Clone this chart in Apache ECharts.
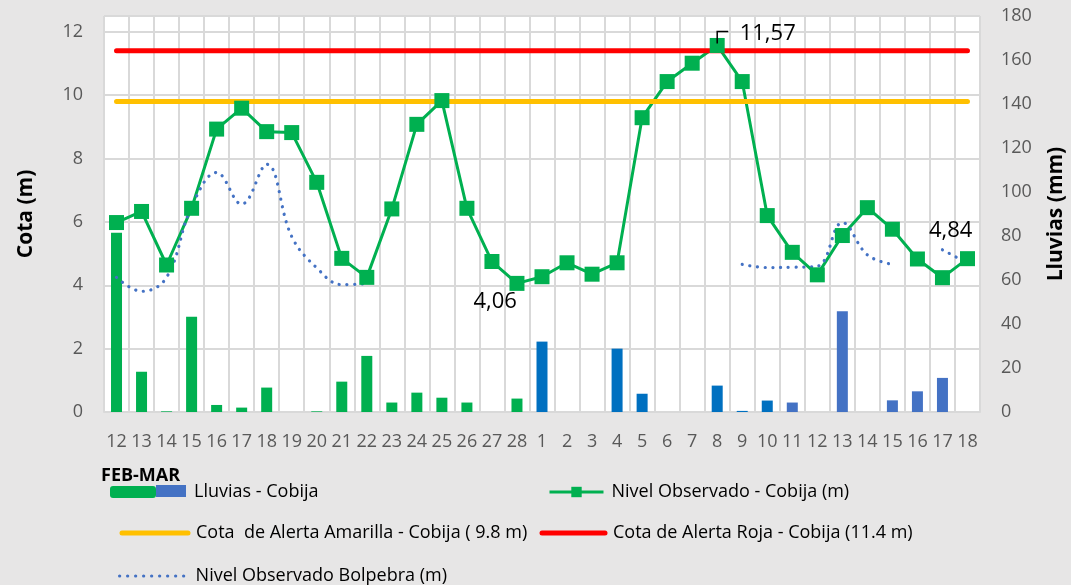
<!DOCTYPE html>
<html>
<head>
<meta charset="utf-8">
<script src="https://cdn.jsdelivr.net/npm/echarts@6/dist/echarts.min.js"></script>
<style>
html,body{margin:0;padding:0;background:#e7e6e6;}
#c{width:1071px;height:585px;}
</style>
</head>
<body>
<div id="c"></div>
<script>
// ---- Data ----
const categories = ['12','13','14','15','16','17','18','19','20','21','22','23','24','25','26','27','28',
                    '1','2','3','4','5','6','7','8','9','10','11','12','13','14','15','16','17','18'];
const periodLabel = 'FEB-MAR';
// Lluvias - Cobija (mm), right axis
const lluvias = [81.5,18.3,0.3,43.3,3.2,2.0,11.1,0,0.3,13.8,25.5,4.3,8.8,6.5,4.3,0,6.1,
                 32.0,0,0,28.8,8.3,0,0,12.0,0.5,5.2,4.3,0,45.8,0,5.3,9.4,15.5,0];
// Nivel Observado - Cobija (m)
const nivelCobija = [5.98,6.33,4.64,6.43,8.93,9.59,8.85,8.82,7.25,4.85,4.25,6.41,9.08,9.83,6.43,4.75,4.06,
                     4.27,4.71,4.35,4.71,9.29,10.43,11.01,11.57,10.43,6.20,5.04,4.33,5.57,6.45,5.77,4.83,4.24,4.84];
// Nivel Observado Bolpebra (m)
const nivelBolpebra = [4.25,3.81,4.25,6.48,7.56,6.56,7.82,5.54,4.55,4.02,4.05,null,null,null,null,null,null,
                       null,null,null,null,null,null,null,null,4.66,4.56,4.57,4.60,5.98,4.96,4.66,null,5.12,4.70];
// Cota de Alerta Amarilla / Roja (m)
const alertaAmarilla = [9.8,9.8,9.8,9.8,9.8,9.8,9.8,9.8,9.8,9.8,9.8,9.8,9.8,9.8,9.8,9.8,9.8,
                        9.8,9.8,9.8,9.8,9.8,9.8,9.8,9.8,9.8,9.8,9.8,9.8,9.8,9.8,9.8,9.8,9.8,9.8];
const alertaRoja = [11.4,11.4,11.4,11.4,11.4,11.4,11.4,11.4,11.4,11.4,11.4,11.4,11.4,11.4,11.4,11.4,11.4,
                    11.4,11.4,11.4,11.4,11.4,11.4,11.4,11.4,11.4,11.4,11.4,11.4,11.4,11.4,11.4,11.4,11.4,11.4];
const labelledPoints = [16, 24, 34]; // indices of points carrying data labels

const names = {
  lluvias: 'Lluvias - Cobija',
  cobija: 'Nivel Observado - Cobija (m)',
  amarilla: 'Cota  de Alerta Amarilla - Cobija ( 9.8 m)',
  roja: 'Cota de Alerta Roja - Cobija (11.4 m)',
  bolpebra: 'Nivel Observado Bolpebra (m)'
};

// ---- Styling ----
const FONT = '"Open Sans", sans-serif';
const GREEN = '#00B050', BLUE = '#0070C0', STEEL = '#4472C4';
const YELLOW = '#FFC000', RED = '#FF0000';
const GRID = '#d9d9d9';

function barColor(i) {
  if (i < 17) return GREEN;
  if (i < 27) return BLUE;
  return STEEL;
}
const labelPos = { 16: [-36, 15], 24: [30, -15], 34: [-31, -31] };

const barData = lluvias.map((v, i) => ({ value: v, itemStyle: { color: barColor(i) } }));
const cobijaData = nivelCobija.map((v, i) => {
  if (labelledPoints.indexOf(i) >= 0) {
    return { value: v, label: { show: true, position: labelPos[i],
      formatter: p => p.value.toFixed(2).replace('.', ','),
      fontFamily: FONT, fontSize: 22, color: '#000', lineHeight: 22 } };
  }
  return v;
});

const legendText = { fontFamily: FONT, fontSize: 18, color: '#000', lineHeight: 22, padding: [0, 0, 0, 3] };
function mkLegend(name, left, top, w, h, lineStyle, itemStyle, textPad) {
  const l = { orient: 'horizontal', padding: 0, itemGap: 0, selectedMode: false,
    data: [name], left: left, top: top, itemWidth: w, itemHeight: h,
    textStyle: Object.assign({}, legendText, textPad ? { padding: textPad } : {}) };
  if (lineStyle) l.lineStyle = lineStyle;
  if (itemStyle) l.itemStyle = itemStyle;
  return l;
}

const chart = echarts.init(document.getElementById('c'), null, { renderer: 'canvas' });
const staticGraphics = [
  { type: 'text', left: 101, top: 467, z: 10,
    style: { text: periodLabel, fontFamily: FONT, fontSize: 18, fontWeight: 'bold', fill: '#000' } },
  { type: 'rect', z: 100, shape: { x: 156, y: 485, width: 30, height: 12 }, style: { fill: STEEL } }
];
const option = {
  animation: false,
  backgroundColor: '#e7e6e6',
  grid: { left: 104, right: 91, top: 16, bottom: 173, show: true, backgroundColor: '#ffffff',
          borderColor: GRID, borderWidth: 1, outerBoundsMode: 'none', containLabel: false },
  xAxis: {
    type: 'category', data: categories, boundaryGap: true,
    axisLine: { show: true, lineStyle: { color: GRID, width: 2 } },
    axisTick: { show: false },
    axisLabel: { interval: 0, margin: 21, color: '#595959', fontFamily: FONT, fontSize: 18 },
    splitLine: { show: true, interval: 0, lineStyle: { color: GRID, width: 2 } }
  },
  yAxis: [
    { type: 'value', min: 0, max: 12.5, interval: 2,
      name: 'Cota (m)', nameLocation: 'middle', nameRotate: 90, nameGap: 67,
      nameTextStyle: { fontFamily: FONT, fontSize: 21, fontWeight: 'bold', color: '#000' },
      axisLine: { show: false }, axisTick: { show: false },
      axisLabel: { margin: 21, color: '#595959', fontFamily: FONT, fontSize: 18, showMaxLabel: false,
                   formatter: v => (v > 12 ? '' : String(v)) },
      splitLine: { show: true, lineStyle: { color: GRID, width: 2 } } },
    { type: 'value', min: 0, max: 180, interval: 20,
      name: 'Lluvias (mm)', nameLocation: 'middle', nameRotate: 90, nameGap: 66,
      nameTextStyle: { fontFamily: FONT, fontSize: 21, fontWeight: 'bold', color: '#000' },
      axisLine: { show: false }, axisTick: { show: false },
      axisLabel: { margin: 21, color: '#595959', fontFamily: FONT, fontSize: 18 },
      splitLine: { show: false } }
  ],
  legend: [
    mkLegend(names.lluvias, 110, 481, 46, 12, null, null, [0, 0, 0, 33]),
    mkLegend(names.cobija, 548, 481, 54, 13, { width: 3, color: GREEN }, null),
    mkLegend(names.amarilla, 119.5, 522, 66, 14, { width: 5, color: YELLOW, cap: 'round' }, { opacity: 0 }),
    mkLegend(names.roja, 539.5, 522, 63, 14, { width: 5, color: RED, cap: 'round' }, { opacity: 0 }),
    mkLegend(names.bolpebra, 118, 565, 68, 14, { width: 3.2, color: STEEL, cap: 'round', type: [0.1, 7.9] }, { opacity: 0 })
  ],
  series: [
    { name: names.lluvias, type: 'bar', yAxisIndex: 1, barWidth: 11, data: barData,
      itemStyle: { color: GREEN } },
    { name: names.cobija, type: 'line', yAxisIndex: 0, data: cobijaData,
      symbol: 'rect', symbolSize: 15, showAllSymbol: true,
      itemStyle: { color: GREEN }, lineStyle: { color: GREEN, width: 3 } },
    { name: names.bolpebra, type: 'line', yAxisIndex: 0, data: nivelBolpebra, smooth: 0.4,
      connectNulls: false, symbol: 'none',
      itemStyle: { color: STEEL },
      lineStyle: { color: STEEL, width: 3.2, type: [0.1, 7.6], cap: 'round' } },
    { name: names.amarilla, type: 'line', yAxisIndex: 0, data: alertaAmarilla, symbol: 'none',
      itemStyle: { color: YELLOW }, lineStyle: { color: YELLOW, width: 5, cap: 'round' } },
    { name: names.roja, type: 'line', yAxisIndex: 0, data: alertaRoja, symbol: 'none',
      itemStyle: { color: RED }, lineStyle: { color: RED, width: 5, cap: 'round' } }
  ],
  graphic: staticGraphics
};
chart.setOption(option);

// leader line for the peak label, anchored to the data point through the chart's scales
const peakIdx = 24;
const p = chart.convertToPixel({ xAxisIndex: 0, yAxisIndex: 0 }, [peakIdx, nivelCobija[peakIdx]]);
chart.setOption({ graphic: staticGraphics.concat([
  { type: 'polyline', z: 100, shape: { points: [[p[0], p[1] - 2], [p[0], p[1] - 14], [p[0] + 11, p[1] - 14]] },
    style: { stroke: '#000', lineWidth: 1.5, fill: null } }
]) });
</script>
</body>
</html>
